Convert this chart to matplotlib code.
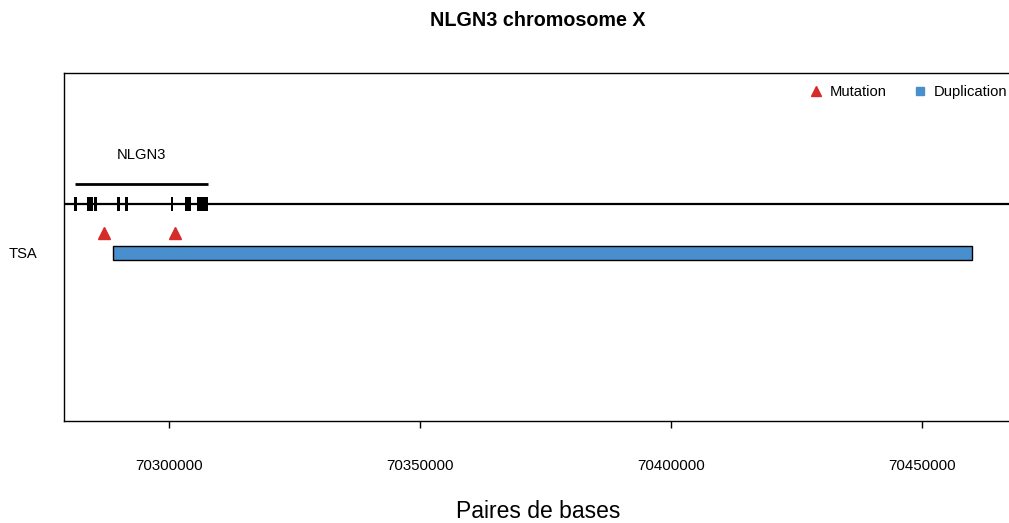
import numpy as np
import matplotlib.pyplot as plt
from matplotlib.patches import Rectangle
from matplotlib.lines import Line2D

plt.rcParams['font.family'] = ['Liberation Sans', 'DejaVu Sans']

# gene NLGN3 on chromosome X
gene_name = "NLGN3"
gene_start = 70281215
gene_end = 70307709
exon_starts = [70281076, 70283725, 70285060, 70289701, 70291295, 70300339, 70303187, 70305518]
exon_ends = [70281614, 70284801, 70285598, 70290179, 70291833, 70300857, 70304382, 70307769]

# variants for TSA
samples = ["TSA"]
mutation_pos = [70287052, 70301195]
dup_start = [70288845]
dup_end = [70459960]

xticks = [70300000, 70350000, 70400000, 70450000]

red = '#d52b2b'
blue = '#4a8fcd'

fig = plt.figure(figsize=(10.09, 5.23), dpi=100)
ax = fig.add_axes([64/1009, 1-421/523, (1012-64)/1009, (421-73)/523])

# chromosome line
ax.axhline(0, color='black', lw=1.6, zorder=1)
# gene line + label
ax.plot([gene_start, gene_end], [0.41, 0.41], color='black', lw=2, solid_capstyle='butt')
ax.text((gene_start + gene_end) / 2, 1.0, gene_name, ha='center', va='center', fontsize=10.6)
# exons
for s, e in zip(exon_starts, exon_ends):
    ax.add_patch(Rectangle((s, -0.15), e - s, 0.30, facecolor='black', edgecolor='none', zorder=2))

# mutations
ax.plot(mutation_pos, [-0.59] * len(mutation_pos), linestyle='none', marker='^', color=red, markersize=9)
# duplication
for s, e in zip(dup_start, dup_end):
    ax.add_patch(Rectangle((s, -1.14), e - s, 0.28, facecolor=blue, edgecolor='black', lw=1))

ax.set_xlim(70279084, 70467928)
ax.set_ylim(-4.43, 2.67)
ax.set_xticks(xticks)
ax.set_xticklabels([str(t) for t in xticks], fontsize=10.8)
ax.tick_params(axis='x', length=5, width=1, pad=22)
ax.set_yticks([-1])
ax.set_yticklabels(samples, fontsize=10.6)
ax.tick_params(axis='y', length=0, pad=19)
for sp in ax.spines.values():
    sp.set_linewidth(1)

ax.set_xlabel("Paires de bases", fontsize=16.5, labelpad=20)
fig.text(538/1009, 1-20/523, "NLGN3 chromosome X", ha='center', va='center', fontsize=14.2, fontweight='bold')

handles = [Line2D([], [], linestyle='none', marker='^', color=red, markersize=7),
           Line2D([], [], linestyle='none', marker='s', color=blue, markersize=6)]
fig.legend(handles, ["Mutation", "Duplication"], loc='center right', bbox_to_anchor=(1007/1009, 1-92/523),
           ncol=2, frameon=False, fontsize=10.6, borderpad=0, borderaxespad=0,
           handlelength=1.0, handletextpad=0.4, columnspacing=1.8)

fig.savefig('out.png', dpi=100)
